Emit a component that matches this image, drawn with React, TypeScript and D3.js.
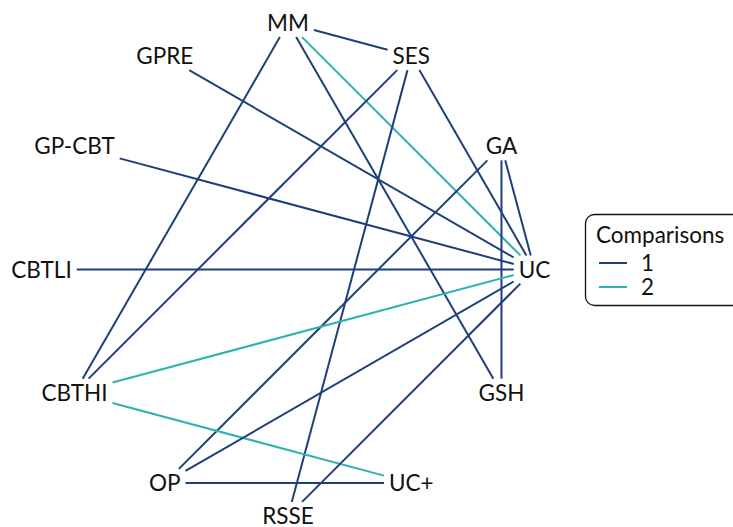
import React, { useEffect, useRef } from "react";
import * as d3 from "d3";

const nodeNames = ["MM", "SES", "GA", "UC", "GSH", "UC+", "RSSE", "OP", "CBTHI", "CBTLI", "GP-CBT", "GPRE"];
const edgeFrom = ["MM", "MM", "MM", "MM", "GPRE", "SES", "SES", "SES", "GA", "GA", "GA", "GP-CBT", "CBTLI", "CBTHI", "CBTHI", "OP", "OP", "RSSE"];
const edgeTo = ["SES", "UC", "GSH", "CBTHI", "UC", "UC", "CBTHI", "RSSE", "OP", "GSH", "UC", "UC", "UC", "UC", "UC+", "UC", "UC+", "UC"];
const edgeComparisons = [1, 2, 1, 1, 1, 1, 1, 1, 1, 1, 1, 1, 1, 2, 2, 1, 1, 1];
const legendLevels = [1, 2];

const W = 733;
const H = 527;
const FONT = "Lato, 'Noto Sans', sans-serif";
const FS = 22.5;
const LFS = 22.5;

export default function App() {
  const ref = useRef<SVGSVGElement>(null);

  useEffect(() => {
    const svg = d3.select(ref.current);
    svg.selectAll("*").remove();

    const cx = 288, cy = 269.5, r = 246.5;
    const angle = d3.scaleLinear().domain([0, nodeNames.length]).range([Math.PI / 2, Math.PI / 2 - 2 * Math.PI]);
    const pos: Record<string, { x: number; y: number; hw: number; hh: number }> = {};
    nodeNames.forEach((n, i) => {
      const a = angle(i);
      pos[n] = { x: cx + r * Math.cos(a), y: cy - r * Math.sin(a), hw: 0, hh: 0 };
    });

    const color = d3.scaleOrdinal<number, string>().domain(legendLevels).range(["#1E3F7A", "#2DB2B0"]);

    const edgeG = svg.append("g");
    const labelG = svg.append("g");

    labelG
      .selectAll("text")
      .data(nodeNames)
      .join("text")
      .attr("x", (d) => pos[d].x)
      .attr("y", (d) => pos[d].y + FS * 0.36)
      .attr("text-anchor", "middle")
      .attr("font-family", FONT)
      .attr("font-size", FS)
      .attr("fill", "#111")
      .text((d) => d)
      .each(function (d) {
        const bb = (this as SVGTextElement).getBBox();
        pos[d].hw = bb.width / 2 + 5;
        pos[d].hh = FS * 0.36 + 6;
      });

    const clip = (p: { x: number; y: number; hw: number; hh: number }, dx: number, dy: number) => {
      const tx = dx !== 0 ? p.hw / Math.abs(dx) : Infinity;
      const ty = dy !== 0 ? p.hh / Math.abs(dy) : Infinity;
      return Math.min(tx, ty);
    };

    const edges = edgeFrom.map((f, i) => ({ f, t: edgeTo[i], c: edgeComparisons[i] }));
    edgeG
      .selectAll("line")
      .data(edges)
      .join("line")
      .each(function (e) {
        const a = pos[e.f], b = pos[e.t];
        const dx = b.x - a.x, dy = b.y - a.y;
        const t0 = clip(a, dx, dy);
        const t1 = 1 - clip(b, dx, dy);
        d3.select(this)
          .attr("x1", a.x + dx * t0)
          .attr("y1", a.y + dy * t0)
          .attr("x2", a.x + dx * t1)
          .attr("y2", a.y + dy * t1);
      })
      .attr("stroke", (e) => color(e.c))
      .attr("stroke-width", 2);

    const lg = svg.append("g");
    lg.append("rect")
      .attr("x", 585.5)
      .attr("y", 214.5)
      .attr("width", 160)
      .attr("height", 91)
      .attr("rx", 9)
      .attr("fill", "white")
      .attr("stroke", "#111")
      .attr("stroke-width", 1.3);
    lg.append("text")
      .attr("x", 596)
      .attr("y", 243)
      .attr("font-family", FONT)
      .attr("font-size", LFS)
      .attr("fill", "#111")
      .text("Comparisons");
    legendLevels.forEach((lv, i) => {
      const y = 263 + i * 24;
      lg.append("line")
        .attr("x1", 599)
        .attr("x2", 627)
        .attr("y1", y)
        .attr("y2", y)
        .attr("stroke", color(lv))
        .attr("stroke-width", 2);
      lg.append("text")
        .attr("x", 641)
        .attr("y", y + 7.5)
        .attr("font-family", FONT)
        .attr("font-size", LFS)
        .attr("fill", "#111")
        .text(String(lv));
    });
  }, []);

  return (
    <svg
      ref={ref}
      width={W}
      height={H}
      style={{ position: "absolute", left: 0, top: 0, background: "white" }}
    />
  );
}
